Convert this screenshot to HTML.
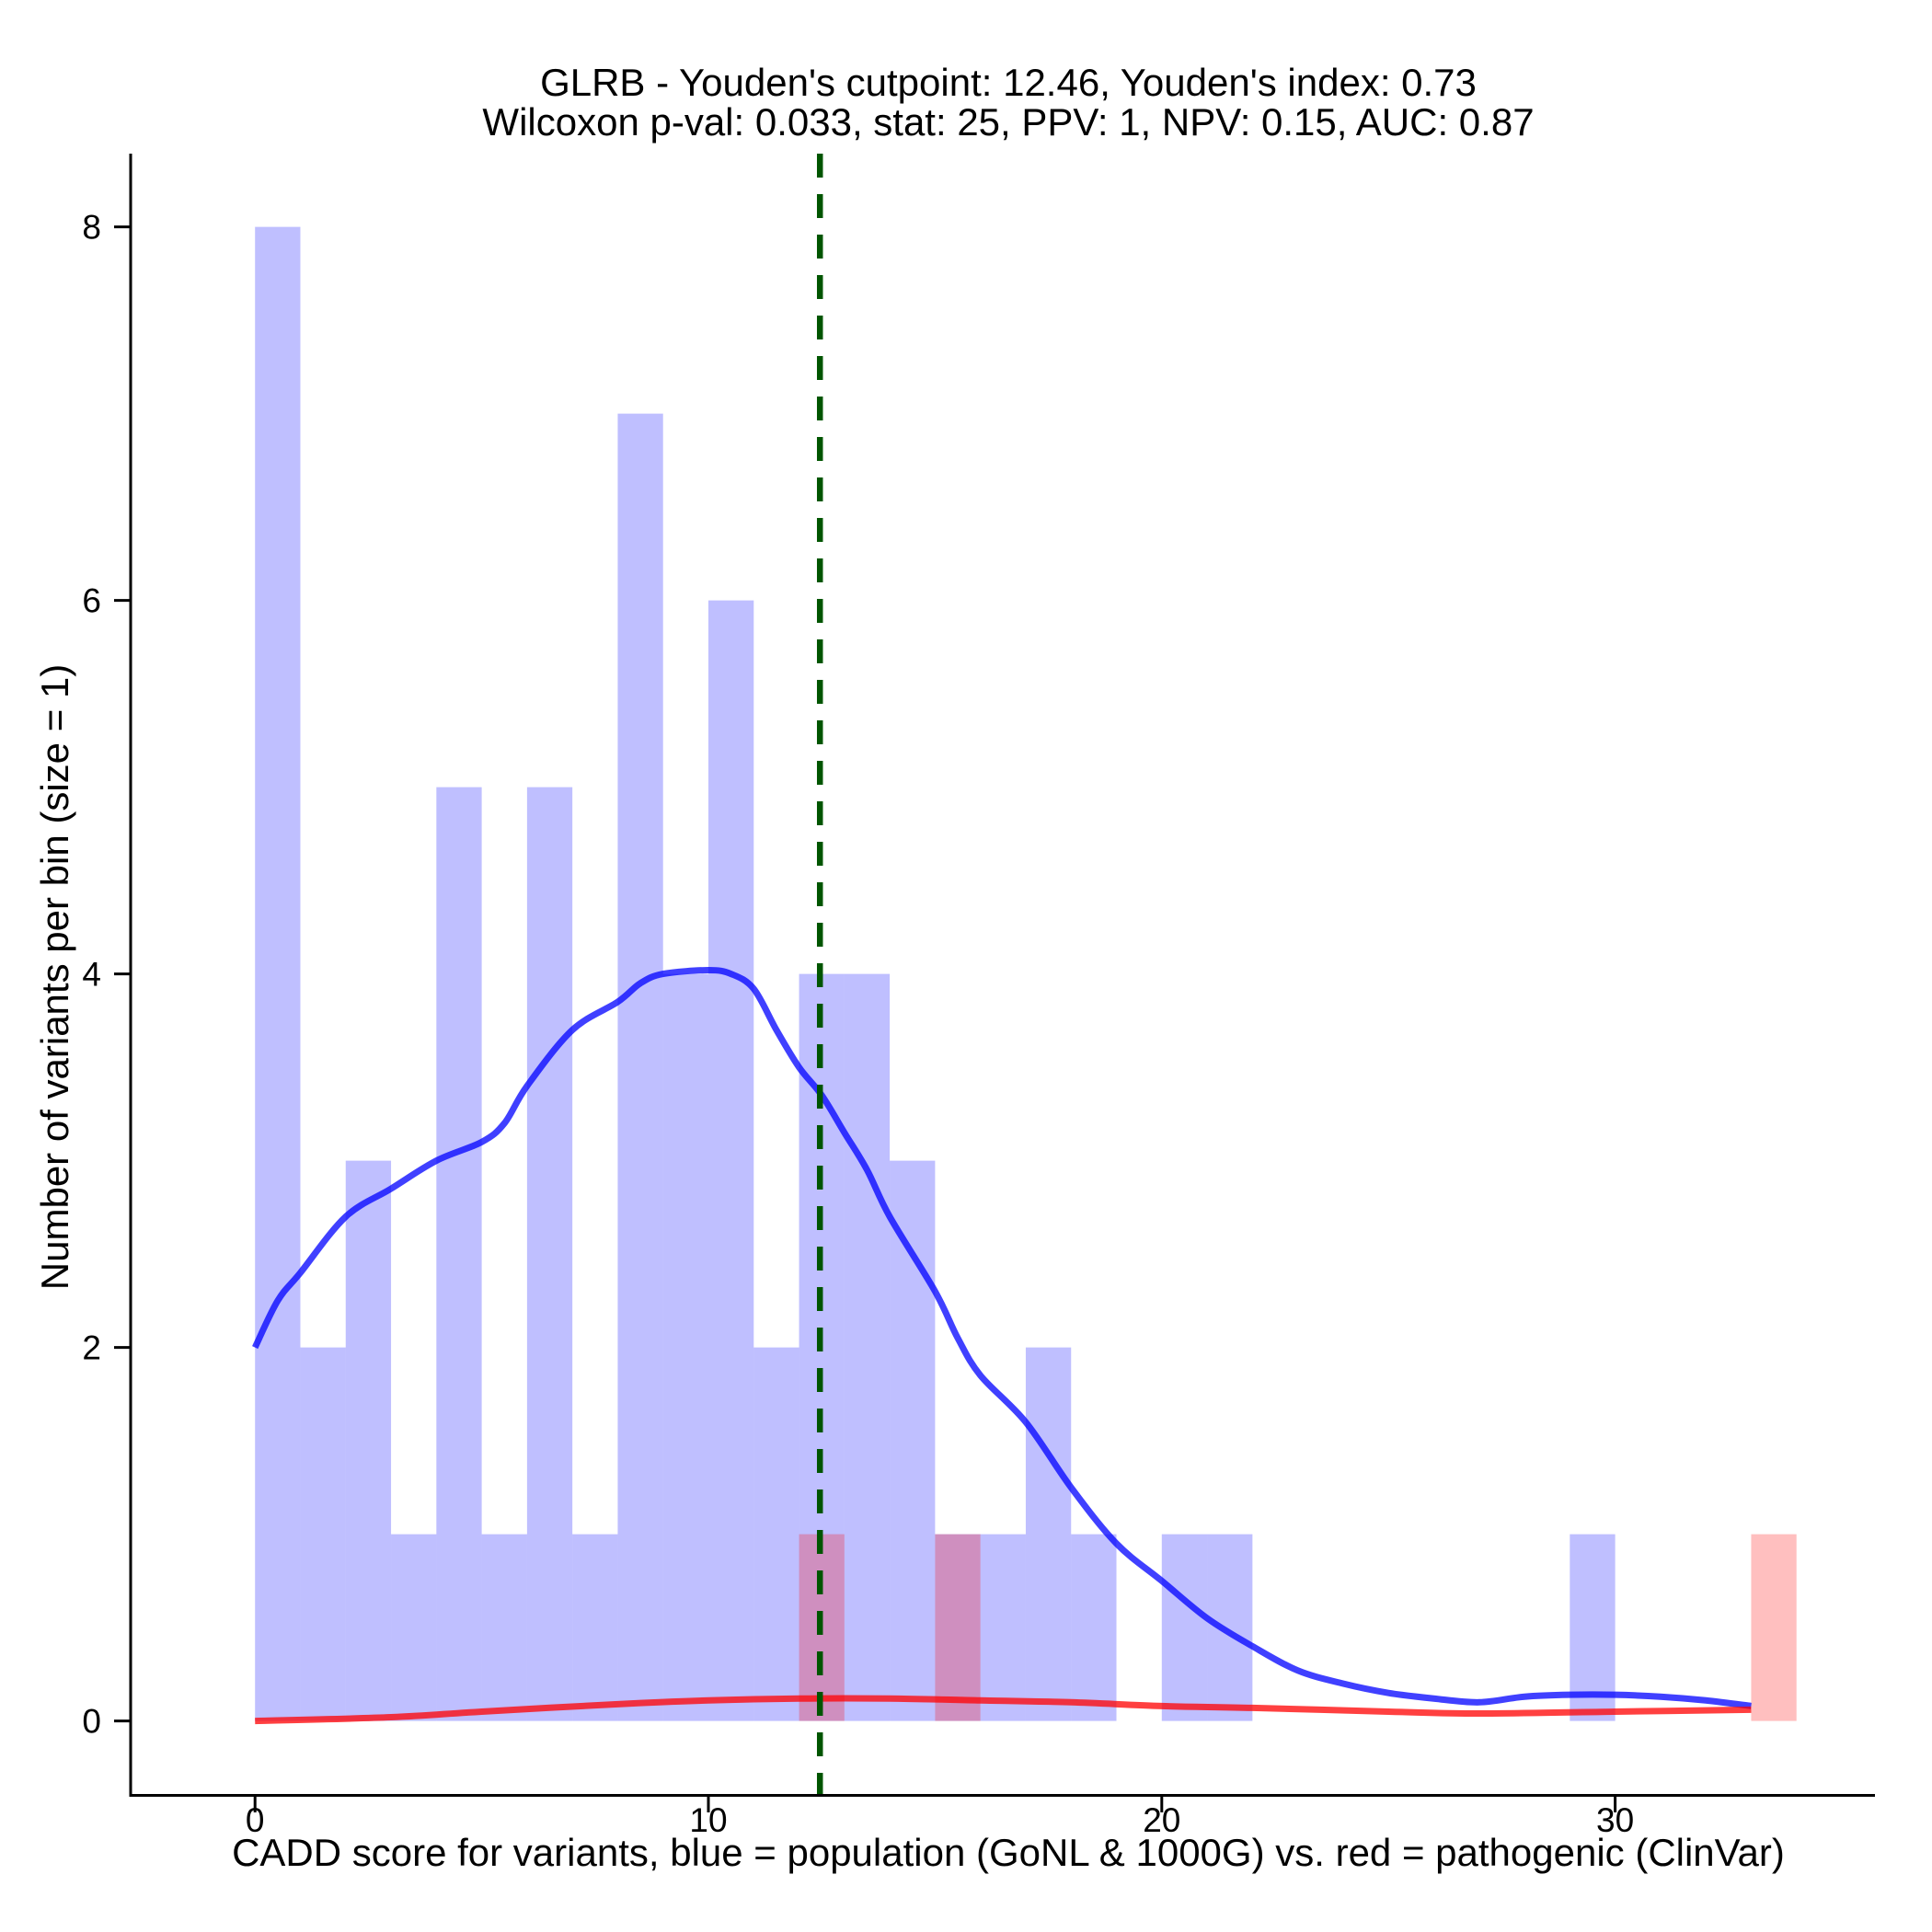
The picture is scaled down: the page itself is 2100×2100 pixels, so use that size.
<!DOCTYPE html>
<html><head><meta charset="utf-8"><style>
html,body{margin:0;padding:0;background:#fff;}
svg{display:block;font-family:"Liberation Sans",Arial,sans-serif;}
</style></head><body>
<svg id="chart" width="2100" height="2100" viewBox="0 0 2100 2100" xmlns="http://www.w3.org/2000/svg">
<g id="bars"></g>
<g id="curves"></g>
<g id="axes"></g>
<text x="1096" y="104" font-size="42" text-anchor="middle">GLRB - Youden's cutpoint: 12.46, Youden's index: 0.73</text>
<text x="1096" y="147" font-size="42" text-anchor="middle">Wilcoxon p-val: 0.033, stat: 25, PPV: 1, NPV: 0.15, AUC: 0.87</text>
<text x="1096" y="2028" font-size="42" text-anchor="middle">CADD score for variants, blue = population (GoNL &amp; 1000G) vs. red = pathogenic (ClinVar)</text>
<text x="0" y="0" font-size="42" text-anchor="middle" transform="translate(74,1062) rotate(-90)">Number of variants per bin (size = 1)</text>
</svg>
<script>
const blueCounts=[8,2,3,1,5,1,5,1,7,4,6,2,4,4,3,1,1,2,1,0,1,1,0,0,0,0,0,0,0,1,0,0,0,0];
const redCounts=[0,0,0,0,0,0,0,0,0,0,0,0,1,0,0,1,0,0,0,0,0,0,0,0,0,0,0,0,0,0,0,0,0,1];
const blueDensX=[0,0.5,1,2,3,4,5,5.5,6,7,8,8.5,9,10,10.5,11,11.5,12,12.5,13,13.5,14,15,15.5,16,17,18,19,20,21,22,23,24,25,26,27,28,29,30,31,32,33];
const blueDensY=[2.0,2.25,2.4,2.7,2.85,3.0,3.1,3.2,3.4,3.7,3.85,3.95,4.0,4.02,4.0,3.92,3.7,3.5,3.35,3.15,2.95,2.7,2.3,2.05,1.85,1.6,1.25,0.95,0.75,0.55,0.4,0.27,0.2,0.15,0.12,0.1,0.13,0.14,0.14,0.13,0.11,0.08];
const redDensX=[0,3,5,8,10,12,14,16,18,20,22,25,27,30,33];
const redDensY=[0,0.02,0.05,0.09,0.11,0.12,0.12,0.11,0.1,0.08,0.07,0.05,0.04,0.05,0.06];
const xTicks=[0,10,20,30];
const yTicks=[0,2,4,6,8];
const cutpoint=[12.46];
const NS='http://www.w3.org/2000/svg';
const X=v=>277.2+v*49.28;
const Y=v=>1870.6-v*203.0;
function mk(t,a,p){const e=document.createElementNS(NS,t);for(const k in a)e.setAttribute(k,a[k]);p.appendChild(e);return e;}
const bars=document.getElementById('bars');
blueCounts.forEach((c,i)=>{if(!c)return;
 const r=mk('rect',{x:X(i),y:Y(c),width:X(i+1)-X(i),height:Y(0)-Y(c),fill:'rgba(0,0,255,0.25)'},bars);
 
 });
redCounts.forEach((c,i)=>{if(!c)return;
 const r=mk('rect',{x:X(i),y:Y(c),width:X(i+1)-X(i),height:Y(0)-Y(c),fill:'rgba(255,0,0,0.25)'},bars);
 
 });
const cur=document.getElementById('curves');
function smooth(xs,ys){const P=xs.map((x,i)=>[X(x),Y(ys[i])]);let d='M'+P[0][0]+','+P[0][1];
 for(let i=0;i<P.length-1;i++){const p0=P[i-1]||P[i],p1=P[i],p2=P[i+1],p3=P[i+2]||p2;
  const c1=[p1[0]+(p2[0]-p0[0])/6,p1[1]+(p2[1]-p0[1])/6],c2=[p2[0]-(p3[0]-p1[0])/6,p2[1]-(p3[1]-p1[1])/6];
  d+=' C'+c1+' '+c2+' '+p2;}return d;}
function line(xs,ys,col,name){
 const p=mk('path',{d:smooth(xs,ys),fill:'none',stroke:col,'stroke-width':7,'stroke-linejoin':'round'},cur);
 
 }
line(blueDensX,blueDensY,'rgba(0,0,255,0.75)','blue-density-curve');
line(redDensX,redDensY,'rgba(255,0,0,0.75)','red-density-curve');
const cl=mk('line',{x1:X(cutpoint[0]),x2:X(cutpoint[0]),y1:167,y2:1951,stroke:'#005500','stroke-width':6.5,'stroke-dasharray':'26,18'},cur);


const ax=document.getElementById('axes');
mk('line',{x1:142,x2:142,y1:167,y2:1953,stroke:'#000','stroke-width':3},ax);
mk('line',{x1:140.5,x2:2038,y1:1951.5,y2:1951.5,stroke:'#000','stroke-width':3},ax);
xTicks.forEach(t=>{mk('line',{x1:X(t),x2:X(t),y1:1951,y2:1970,stroke:'#000','stroke-width':3},ax);
 const tx=mk('text',{x:X(t),y:1991,'font-size':37,'text-anchor':'middle'},ax);tx.textContent=t;
 
 });
yTicks.forEach(t=>{mk('line',{x1:124,x2:142,y1:Y(t),y2:Y(t),stroke:'#000','stroke-width':3},ax);
 const tx=mk('text',{x:110,y:Y(t)+13,'font-size':37,'text-anchor':'end'},ax);tx.textContent=t;
 
 });
</script>
</body></html>
